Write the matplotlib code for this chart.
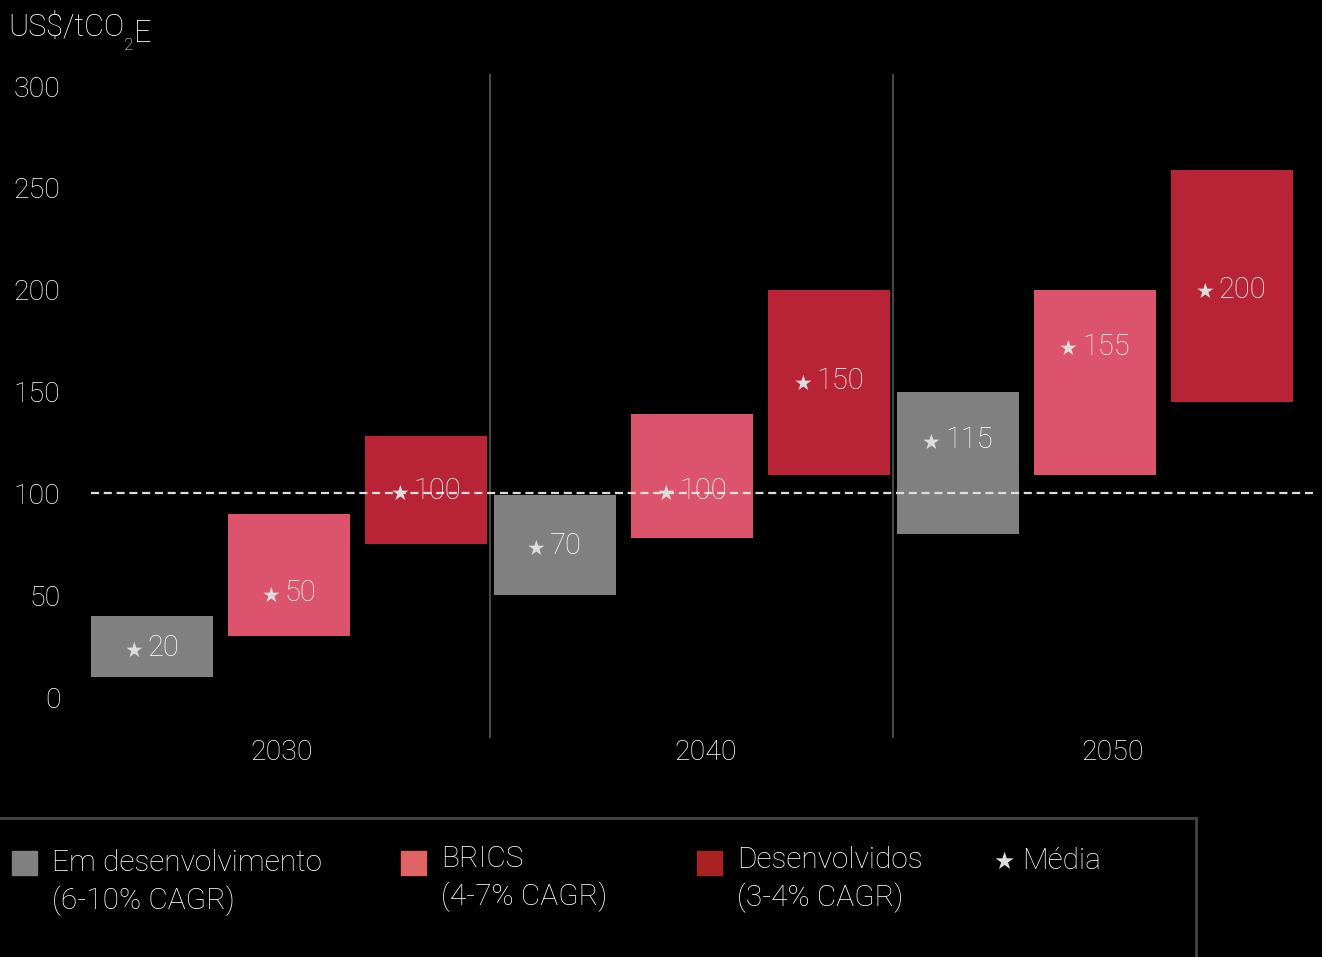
import matplotlib
matplotlib.use("Agg")
import matplotlib.pyplot as plt
from matplotlib.patches import Rectangle
from matplotlib.lines import Line2D

# --- data ---
years = ["2030", "2040", "2050"]
series = ["Em desenvolvimento\n(6-10% CAGR)", "BRICS\n(4-7% CAGR)", "Desenvolvidos\n(3-4% CAGR)"]

dev_low = [10, 50, 80]
dev_high = [40, 99, 150]
dev_mean = [20, 70, 115]

brics_low = [30, 78, 109]
brics_high = [90, 139, 200]
brics_mean = [50, 100, 155]

devd_low = [75, 109, 145]
devd_high = [128, 200, 259]
devd_mean = [100, 150, 200]

# height at which each mean label sits (as drawn in the source)
dev_label_y = [24, 74, 126]
brics_label_y = [51, 101, 172]
devd_label_y = [101, 155, 200]

y_ticks = [0, 50, 100, 150, 200, 250, 300]
ref_line = 100

# --- style ---
BG = "#000000"
TXT = "#ffffff"
STAR = "#dddddd"
BAR_COLORS = ["#808080", "#db546b", "#b92336"]
LEG_COLORS = ["#808080", "#e06464", "#a82222"]
FONT = ["Roboto", "DejaVu Sans"]
W, H = 1322, 957

plt.rcParams["font.family"] = FONT
plt.rcParams["font.weight"] = "light"
plt.rcParams["lines.scale_dashes"] = False

fig = plt.figure(figsize=(W / 100, H / 100), dpi=100, facecolor=BG)
ax = fig.add_axes([91 / W, 1 - 738 / H, (1315 - 91) / W, (738 - 74) / H])
ax.set_facecolor(BG)
for s in ax.spines.values():
    s.set_visible(False)

group_step = 2.94
bar_w = 0.89
tick_offsets = [0.95, 1.10, 1.13]
lows = [dev_low, brics_low, devd_low]
highs = [dev_high, brics_high, devd_high]
means = [dev_mean, brics_mean, devd_mean]
label_ys = [dev_label_y, brics_label_y, devd_label_y]

for g in range(len(years)):
    for i in range(3):
        xc = g * group_step + i
        lo, hi = lows[i][g], highs[i][g]
        ax.bar(xc, hi - lo, bottom=lo, width=bar_w, color=BAR_COLORS[i], zorder=2)

# reference dashed line
ax.axhline(ref_line, color=STAR, lw=1.6, dashes=(5.8, 3.4), zorder=3)

# group separators
for g in range(1, len(years)):
    ax.axvline(g * group_step - 0.47, color="#555555", lw=1.2, zorder=1)

# mean labels with star
for g in range(len(years)):
    for i in range(3):
        xc = g * group_step + i
        t = ax.annotate(str(means[i][g]), xy=(xc, label_ys[i][g]), xytext=(8, 0),
                        textcoords="offset points", ha="center", va="center",
                        color=TXT, fontsize=21, zorder=4)
        ax.annotate("★", xy=(0, 0.42), xycoords=t, xytext=(-3, 0),
                    textcoords="offset points", ha="right", va="center",
                    color=STAR, fontsize=15, family=["DejaVu Sans"],
                    fontweight="normal", zorder=4)

ax.set_xlim(-0.445, 8.489)
ax.set_ylim(-20.1, 305.9)
ax.set_yticks(y_ticks)
ax.set_yticklabels([str(v) for v in y_ticks])
ax.set_xticks([g * group_step + tick_offsets[g] for g in range(len(years))])
ax.set_xticklabels(years)
ax.tick_params(axis="y", length=0, pad=22, labelsize=20.5, labelcolor=TXT)
ax.tick_params(axis="x", length=0, pad=1, labelsize=20.5, labelcolor=TXT)

# unit title with subscript
t1 = fig.text(8 / W, 1 - 36 / H, "US$/tCO", color=TXT, fontsize=22, ha="left", va="baseline")
t2 = ax.annotate("2", xy=(1, 0), xycoords=t1, xytext=(0, -6), textcoords="offset points",
                 ha="left", va="baseline", color=TXT, fontsize=12.5, annotation_clip=False)
ax.annotate("E", xy=(1, 0), xycoords=(t2, t1), ha="left", va="baseline",
            color=TXT, fontsize=22, annotation_clip=False)

# legend frame
fig.add_artist(Line2D([0, 1196 / W], [1 - 818 / H, 1 - 818 / H], transform=fig.transFigure,
                      color="#444444", lw=2))
fig.add_artist(Line2D([1196 / W, 1196 / W], [1 - 818 / H, 0], transform=fig.transFigure,
                      color="#444444", lw=2))

leg_x = [12, 401, 697]
leg_ty = [864, 860, 861]
for i, label in enumerate(series):
    fig.add_artist(Rectangle((leg_x[i] / W, 1 - 875 / H), 25 / W, 24 / H,
                             transform=fig.transFigure, color=LEG_COLORS[i]))
    fig.text((leg_x[i] + 40) / W, 1 - (leg_ty[i] - 15) / H, label, color=TXT,
             fontsize=21.5, ha="left", va="top", linespacing=1.35)

fig.text(1004 / W, 1 - 862 / H, "★", color=STAR, fontsize=17, family=["DejaVu Sans"],
         fontweight="normal", ha="center", va="center")
fig.text(1022 / W, 1 - 861 / H, "Média", color=TXT, fontsize=21.5, ha="left", va="center")

fig.savefig("out.png", dpi=100, facecolor=BG)
